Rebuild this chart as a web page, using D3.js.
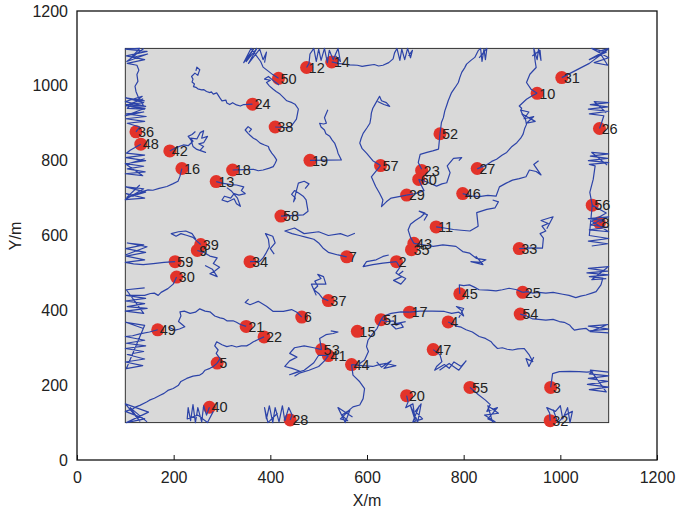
<!DOCTYPE html>
<html><head><meta charset="utf-8">
<script src="https://cdn.jsdelivr.net/npm/d3@7"></script>
<style>body{margin:0;background:#fff}svg{display:block}text{font-family:"Liberation Sans",Arial,sans-serif;fill:#222}</style>
</head><body><svg id="c" width="677" height="515"></svg>
<script>
const xTicks=[0,200,400,600,800,1000,1200];
const yTicks=[0,200,400,600,800,1000,1200];
const area=[100,1100];
const nodeIds=[2,3,4,5,6,7,8,9,10,11,12,13,14,15,16,17,18,19,20,21,22,23,24,25,26,27,28,29,30,31,32,33,34,35,36,37,38,39,40,41,42,43,44,45,46,47,48,49,50,51,52,53,54,55,56,57,58,59,60];
const nodeX=[661,980,768,290,465,558,1081,249,952,743,475,288,527,580,217,688,322,482,682,350,387,713,363,922,1081,828,441,682,206,1003,979,915,358,692,122,520,410,256,274,520,192,697,568,792,798,737,132,167,417,629,751,506,917,813,1066,628,422,203,707];
const nodeY=[530,194,369,259,382,543,634,560,980,623,1049,744,1064,344,779,395,775,801,172,357,329,774,951,448,886,779,107,708,489,1022,105,565,530,562,877,426,890,576,141,279,826,579,255,444,712,295,844,348,1020,375,872,295,390,194,681,787,652,530,750];
const trails=[
[[122,877],[130,890],[104,900],[140,905],[101,912],[143,918],[102,925],[138,930],[100,920],[141,940],[110,945],[137,948],[126,972],[122,985],[120,999],[126,1012],[124,1030],[128,1042],[124,1055],[104,1060],[140,1070],[102,1080],[145,1092],[100,1098],[130,1100],[112,1075],[146,1085],[103,1065],[138,1100]],
[[140,960],[101,968],[138,955],[102,950],[142,945],[100,958],[135,972],[104,940],[140,938],[101,947],[137,965]],
[[132,844],[120,835],[110,828],[102,820],[140,815],[101,808],[142,800],[100,792],[138,785],[104,778],[141,770],[100,765],[136,760],[102,790],[140,805]],
[[217,779],[213,758],[209,745],[198,738],[186,731],[170,726],[157,721],[147,722],[137,718],[126,712],[116,705],[102,712],[140,700],[100,696],[138,725],[101,730],[142,716],[103,702],[130,735]],
[[192,826],[205,835],[220,842],[230,840],[240,852],[235,860],[248,858],[255,875],[262,880],[258,860],[270,865],[262,848],[252,845],[262,838],[255,828],[266,822],[248,830],[240,838],[236,855],[230,865],[238,870],[245,878]],
[[363,951],[345,950],[338,946],[330,949],[322,955],[316,950],[310,954],[308,962],[300,960],[296,967],[292,975],[289,981],[282,978],[278,984],[275,982],[268,985],[262,990],[258,989],[250,992],[246,996],[241,998],[243,1005],[238,1010],[240,1018],[237,1025],[244,1034],[250,1028],[252,1036],[254,1043],[248,1050],[246,1040]],
[[322,775],[345,776],[365,777],[375,773],[385,775],[398,780],[406,784],[410,793],[413,802],[408,812],[403,820],[398,830],[396,838],[388,842],[379,847],[372,855],[365,860],[358,868],[354,873],[348,882],[354,891],[361,884],[356,876]],
[[288,744],[300,740],[318,736],[330,735],[345,730],[340,720],[348,712],[335,708],[325,712],[318,700],[305,705],[300,695],[312,690],[325,698],[330,685],[338,678],[332,700],[320,718],[310,728]],
[[417,1020],[405,1030],[395,1040],[385,1050],[380,1065],[360,1100],[345,1062],[365,1098],[350,1065],[372,1100],[355,1060],[378,1098],[385,1070],[392,1090],[388,1062]],
[[410,890],[441,888],[454,911],[458,938],[451,951],[445,955],[434,960],[428,968],[420,978],[412,985],[406,991],[398,1000],[392,1009],[400,1015],[388,1018],[396,1025],[410,1010],[418,1002]],
[[475,1049],[480,1060],[482,1085],[490,1100],[495,1065],[500,1098],[505,1068],[512,1100],[518,1062],[522,1095],[530,1070],[540,1100],[545,1065],[535,1080]],
[[527,1064],[540,1060],[552,1058],[564,1056],[580,1055],[590,1052],[599,1054],[615,1057],[624,1053],[633,1055],[645,1062],[654,1072],[657,1088],[662,1100],[668,1068],[672,1098],[678,1070],[684,1100],[690,1075],[694,1095],[686,1080]],
[[482,801],[547,802],[540,820],[538,830],[533,847],[528,855],[523,865],[515,872],[512,882],[505,890],[502,900],[510,898],[516,900],[512,915],[519,936]],
[[628,787],[612,800],[599,820],[590,832],[585,847],[588,860],[592,873],[600,888],[606,900],[608,915],[609,927],[612,940],[616,949],[626,972],[630,960],[640,955],[647,945],[635,950],[622,958]],
[[628,787],[609,757],[618,731],[626,713],[633,695],[630,677],[640,690],[650,700],[666,704],[682,708]],
[[751,872],[754,902],[758,915],[761,933],[765,948],[768,960],[775,982],[782,995],[789,1009],[792,1022],[796,1036],[802,1048],[806,1058],[815,1068],[823,1076],[830,1094],[835,1100],[838,1065],[842,1098],[845,1070],[848,1100],[832,1075]],
[[751,872],[748,831],[736,826],[724,822],[710,817],[706,795],[713,777]],
[[707,750],[720,745],[744,732],[755,738],[765,741],[772,768],[766,786],[779,806],[796,808],[790,800]],
[[682,708],[700,712],[718,720],[712,735],[707,750]],
[[952,980],[940,972],[930,964],[925,958],[915,946],[920,940],[918,935],[923,920],[928,910],[930,897],[926,885],[923,871],[918,860],[910,848],[900,838],[889,822],[880,815],[868,804],[858,798],[844,786],[835,782],[828,778]],
[[918,935],[935,930],[925,912],[945,918],[930,900],[948,905],[920,925]],
[[952,980],[940,990],[930,1009],[937,1031],[950,1049],[948,1065],[945,1100],[952,1070],[955,1098],[960,1068],[958,1095],[942,1080]],
[[1003,1022],[1030,1040],[1060,1060],[1099,1098],[1060,1070],[1095,1090],[1065,1100],[1100,1075],[1070,1062],[1098,1055],[1080,1092],[1100,1100]],
[[1081,886],[1085,900],[1090,920],[1060,925],[1100,932],[1058,938],[1098,944],[1062,950],[1100,955],[1070,958],[1095,928]],
[[1066,681],[1061,715],[1068,750],[1072,786],[1060,790],[1100,795],[1058,800],[1098,806],[1062,812],[1100,818],[1065,822],[1097,788]],
[[1081,634],[1090,640],[1058,645],[1100,650],[1062,628],[1098,622],[1060,615],[1100,610],[1065,638],[1095,660],[1066,681],[1060,600],[1100,592],[1058,585],[1098,578],[1065,572]],
[[798,712],[815,706],[832,704],[850,707],[867,705],[874,730],[888,740],[901,748],[915,752],[929,757],[936,775],[950,771],[960,762],[945,790],[955,800]],
[[743,623],[760,620],[779,616],[795,614],[813,612],[830,625],[827,661],[848,670],[865,674],[872,690],[860,695]],
[[915,565],[940,567],[963,566],[964,580],[965,593],[958,605],[970,612],[962,625],[975,632],[960,640],[985,650],[972,618]],
[[661,530],[633,526],[612,522],[592,517],[599,530],[619,535],[633,544],[645,548]],
[[661,530],[668,515],[660,500],[672,490],[655,480],[670,470],[680,485],[665,495],[675,505]],
[[697,579],[716,575],[737,571],[757,575],[784,571],[798,557],[812,553],[826,539],[846,535],[835,528],[815,530],[840,522],[825,545]],
[[697,579],[690,595],[685,615],[690,630],[700,640],[712,650],[720,660],[708,665],[725,655],[718,640]],
[[558,543],[540,548],[520,555],[510,565],[500,580],[490,590],[475,595],[460,600],[445,605],[430,612],[450,620],[470,605],[500,610],[520,600],[545,605],[560,598],[575,606]],
[[422,652],[441,653],[468,655],[478,665],[476,680],[474,695],[468,705],[460,712],[450,720],[444,710],[452,700],[448,690],[458,740],[470,745],[480,738],[472,725]],
[[358,530],[378,531],[385,540],[392,555],[398,570],[396,590],[390,605],[405,598],[410,580],[400,565],[408,550]],
[[256,576],[248,585],[240,595],[228,600],[215,605],[205,598],[195,605],[210,610],[225,612],[238,605],[246,590]],
[[249,560],[262,555],[275,545],[290,540],[282,525],[295,515],[285,505],[275,498],[290,490],[280,510],[265,520]],
[[203,530],[180,528],[158,525],[137,522],[117,524],[100,528],[140,535],[102,545],[142,555],[101,565],[138,575],[104,580],[145,570],[100,548]],
[[206,489],[199,470],[188,458],[174,448],[168,440],[160,446],[152,445],[140,440],[102,440],[142,432],[100,425],[140,418],[104,410],[145,405],[100,398],[138,392],[102,455],[140,460]],
[[167,348],[150,342],[130,337],[115,332],[100,330],[140,320],[102,312],[142,305],[100,298],[138,290],[104,282],[140,270],[100,262],[136,252],[102,244],[140,360],[101,368],[136,352]],
[[350,357],[338,362],[330,368],[323,372],[310,372],[303,378],[296,380],[285,385],[275,396],[265,398],[254,404],[245,395],[234,392],[222,398],[213,396],[215,385],[210,370],[223,356],[212,350],[203,347],[190,355]],
[[387,329],[375,322],[365,316],[358,310],[351,305],[340,305],[330,302],[320,306],[310,303],[300,308],[289,316],[285,305],[292,294],[288,285],[296,271],[290,259]],
[[290,259],[282,250],[275,245],[265,240],[260,232],[254,227],[240,224],[227,218],[215,210],[210,200],[199,191],[188,186],[180,178],[172,173],[160,165],[150,160],[144,155],[130,146],[122,142],[116,137],[100,130],[140,110],[102,100],[148,128],[100,150],[130,104],[110,140],[145,102]],
[[465,382],[455,395],[444,402],[427,397],[406,397],[392,411],[375,424],[358,415],[348,421],[355,430]],
[[520,426],[508,432],[500,445],[490,455],[498,465],[492,478],[505,485],[498,496],[510,490],[515,470],[485,470],[495,440]],
[[506,295],[490,300],[470,305],[450,300],[440,285],[455,275],[440,265],[430,250],[445,245],[460,238],[440,228],[470,240],[490,260],[500,280],[520,279]],
[[506,295],[502,325],[515,335],[530,338],[540,342],[525,345]],
[[520,279],[512,265],[500,250],[480,240],[460,232],[450,224]],
[[568,255],[571,227],[585,209],[595,191],[592,164],[585,147],[571,142],[560,130],[548,120],[560,105],[545,110],[565,135],[555,100],[540,140],[570,115]],
[[568,255],[590,252],[612,250],[625,255],[640,258],[660,252],[635,245],[650,265],[630,248],[620,262]],
[[629,375],[621,352],[612,338],[602,320],[599,303],[603,290],[595,267],[585,258]],
[[629,375],[640,370],[655,372],[660,360],[670,365],[675,355],[660,350],[650,362],[680,370]],
[[688,395],[670,396],[650,392],[635,385],[629,375]],
[[688,395],[710,398],[735,398],[760,397],[775,392],[790,395],[800,385],[795,400],[785,410],[800,405],[790,380]],
[[768,369],[785,358],[795,355],[805,348],[818,342],[832,330],[845,325],[857,316],[862,308],[870,298],[880,300],[890,296],[901,294],[912,297],[925,298],[930,290],[936,280],[943,263],[929,271],[935,250],[945,275]],
[[792,444],[791,468],[800,466],[812,468],[822,462],[832,455],[850,454],[867,452],[880,455],[894,459],[910,455],[922,448]],
[[922,448],[932,450],[943,446],[955,448],[970,446],[985,448],[1005,443],[1018,440],[1032,434],[1042,438],[1053,441],[1065,446],[1074,450],[1084,468],[1088,486],[1060,490],[1100,495],[1055,500],[1098,505],[1058,512],[1100,517],[1065,482],[1095,485]],
[[917,390],[930,385],[943,377],[955,376],[970,374],[985,376],[998,370],[1008,368],[1019,361],[1025,352],[1029,347],[1040,350],[1053,352],[1060,345],[1100,350],[1058,358],[1098,362],[1062,343],[1100,340]],
[[980,194],[984,231],[998,236],[1020,237],[1039,236],[1055,235],[1067,236],[1060,230],[1100,225],[1058,218],[1098,210],[1056,202],[1100,195],[1060,188],[1095,182],[1062,240],[1100,235]],
[[813,194],[830,175],[845,160],[855,148],[848,130],[870,140],[850,110],[865,102],[843,120],[872,125],[850,145],[860,100]],
[[979,105],[978,125],[972,140],[990,130],[1000,145],[1005,110],[1015,140],[1020,100],[1025,130],[1010,120],[995,100],[985,135]],
[[682,172],[685,155],[680,140],[695,150],[700,105],[690,145],[705,102],[712,150],[700,130],[715,110],[695,102],[708,145]],
[[737,295],[751,281],[755,263],[744,250],[740,240],[760,255],[770,245],[780,262],[795,250],[805,265],[790,240],[770,258],[750,240]],
[[441,107],[445,120],[438,140],[430,105],[425,145],[418,102],[410,140],[405,100],[398,145],[392,110],[388,140],[395,100],[415,125]],
[[274,141],[268,120],[262,145],[258,102],[250,140],[245,100],[240,148],[235,105],[230,140],[228,110],[250,120],[270,100],[282,130]]
];

const svg=d3.select("#c");
const x=d3.scaleLinear().domain([0,1200]).range([77,657]);
const y=d3.scaleLinear().domain([0,1200]).range([460,11]);

svg.append("rect").attr("x",x(area[0])).attr("y",y(area[1])).attr("width",x(area[1])-x(area[0])).attr("height",y(area[0])-y(area[1]))
  .attr("fill","#d9d9d9").attr("stroke","#333").attr("stroke-width",1);

const nodes=nodeIds.map((id,i)=>({id,x:nodeX[i],y:nodeY[i]}));
svg.append("g").selectAll("circle").data(nodes).join("circle")
  .attr("cx",d=>x(d.x)).attr("cy",d=>y(d.y)).attr("r",6.5).attr("fill","#e2332a");

const line=d3.line().x(d=>x(d[0])).y(d=>y(d[1]));
svg.append("g").selectAll("path").data(trails).join("path")
  .attr("d",line).attr("fill","none").attr("stroke","#2c43a8").attr("stroke-width",1.2).attr("stroke-linejoin","round");

svg.append("g").selectAll("text").data(nodes).join("text")
  .attr("x",d=>x(d.x)+2).attr("y",d=>y(d.y)).attr("dy","0.36em").attr("font-size",14.5).text(d=>d.id);

// frame
svg.append("rect").attr("x",77).attr("y",11).attr("width",580).attr("height",449).attr("fill","none").attr("stroke","#111").attr("stroke-width",1.3);

const gx=svg.append("g").attr("transform","translate(0,460)")
  .call(d3.axisBottom(x).tickValues(xTicks).tickFormat(d3.format("d")).tickSizeInner(-5).tickSizeOuter(0).tickPadding(12));
const gy=svg.append("g").attr("transform","translate(77,0)")
  .call(d3.axisLeft(y).tickValues(yTicks).tickFormat(d3.format("d")).tickSizeInner(0).tickSizeOuter(0).tickPadding(9));
[gx,gy].forEach(g=>{g.select(".domain").remove();g.selectAll("text").attr("font-size",16).attr("fill","#222").style("font-family","Liberation Sans, Arial, sans-serif");g.selectAll("line").attr("stroke","#111");});

svg.append("text").attr("x",367).attr("y",506).attr("text-anchor","middle").attr("font-size",16).text("X/m");
svg.append("text").attr("transform","translate(21,236) rotate(-90)").attr("text-anchor","middle").attr("font-size",16).text("Y/m");
</script></body></html>
